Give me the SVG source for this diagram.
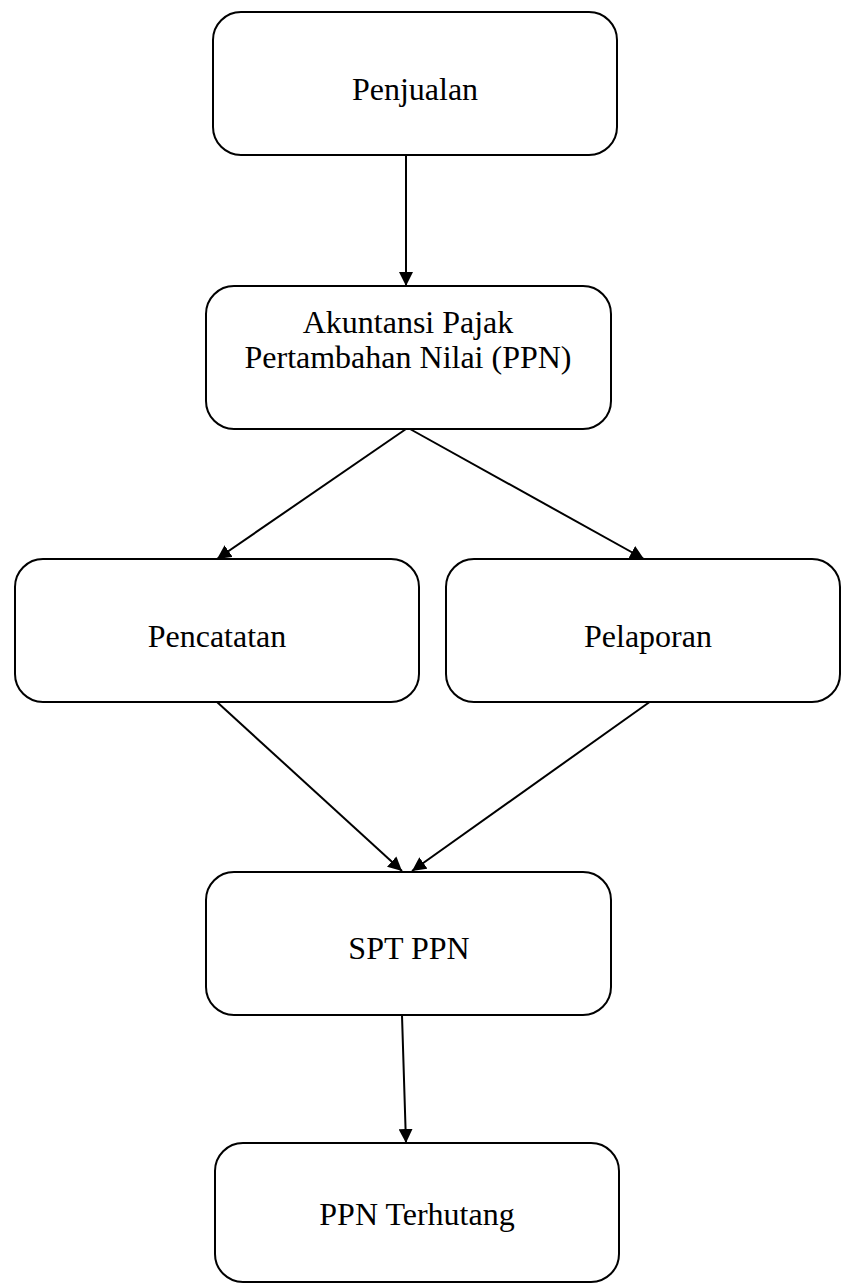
<svg xmlns="http://www.w3.org/2000/svg" width="842" height="1284" viewBox="0 0 842 1284">
<defs>
<style>
.box{fill:#fff;stroke:#000;stroke-width:2}
.lbl{font-family:"Liberation Serif","Times New Roman",serif;font-size:32px;fill:#000;text-anchor:middle}
.con{stroke:#000;stroke-width:2;fill:none}
</style>
<marker id="ah" markerUnits="userSpaceOnUse" markerWidth="16" markerHeight="14" refX="14" refY="7" orient="auto">
<path d="M0,0 L14,7 L0,14 Z" fill="#000"/>
</marker>
</defs>
<rect width="842" height="1284" fill="#fff"/>
<g id="connectors">
<line class="con" x1="406" y1="155" x2="406" y2="286" marker-end="url(#ah)"/>
<line class="con" x1="406" y1="429" x2="217" y2="559" marker-end="url(#ah)"/>
<line class="con" x1="410" y1="429" x2="644" y2="559" marker-end="url(#ah)"/>
<line class="con" x1="217" y1="702" x2="402" y2="871" marker-end="url(#ah)"/>
<line class="con" x1="651" y1="701" x2="412" y2="871" marker-end="url(#ah)"/>
<line class="con" x1="402" y1="1015" x2="406" y2="1143" marker-end="url(#ah)"/>
</g>
<g id="penjualan">
<rect class="box" x="213" y="12" width="404" height="143" rx="28"/>
<text class="lbl" x="415" y="100">Penjualan</text>
</g>
<g id="akuntansi">
<rect class="box" x="206" y="286" width="405" height="143" rx="28"/>
<text class="lbl" x="408" y="333">Akuntansi Pajak</text>
<text class="lbl" x="408" y="368">Pertambahan Nilai (PPN)</text>
</g>
<g id="pencatatan">
<rect class="box" x="15" y="559" width="404" height="143" rx="28"/>
<text class="lbl" x="217" y="647">Pencatatan</text>
</g>
<g id="pelaporan">
<rect class="box" x="446" y="559" width="394" height="143" rx="28"/>
<text class="lbl" x="648" y="647">Pelaporan</text>
</g>
<g id="spt">
<rect class="box" x="206" y="872" width="405" height="143" rx="28"/>
<text class="lbl" x="409" y="959">SPT PPN</text>
</g>
<g id="terhutang">
<rect class="box" x="215" y="1143" width="404" height="139" rx="28"/>
<text class="lbl" x="417" y="1225">PPN Terhutang</text>
</g>
</svg>
